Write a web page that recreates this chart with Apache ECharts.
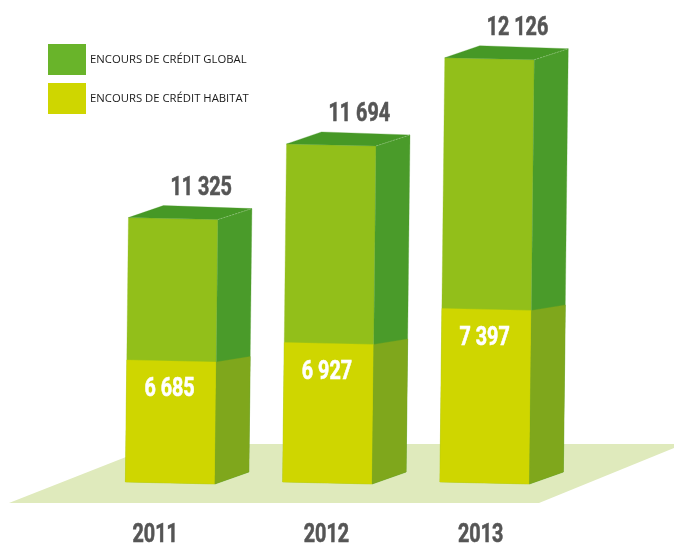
<!DOCTYPE html>
<html>
<head>
<meta charset="utf-8">
<style>html,body{margin:0;padding:0;background:#fff}#c{width:674px;height:548px}</style>
<script src="https://cdn.jsdelivr.net/npm/echarts@6/dist/echarts.min.js"></script>
</head>
<body>
<div id="c"></div>
<script>
var years = ['2011', '2012', '2013'];
var globalValues = [11325, 11694, 12126];
var habitatValues = [6685, 6927, 7397];
var globalName = 'ENCOURS DE CRÉDIT GLOBAL';
var habitatName = 'ENCOURS DE CRÉDIT HABITAT';

var FONT = 'bold 25px Roboto,sans-serif';
var SQUEEZE = 0.79;
var BAR_HALF = 44.75, DEPTH_X = 34, LEAN = 0.0115, TILT = 2;
var yearShift = [-15, -1, -4];

function fmt(v) { return String(v).replace(/(\d)(\d{3})$/, '$1 $2'); }
function face(points, fill) {
  return {type: 'polygon', shape: {points: points}, style: {fill: fill, stroke: fill, lineWidth: 0.3}};
}
function label(text, x, y, fill) {
  return {type: 'text', x: x, y: y, scaleX: SQUEEZE, scaleY: 1, style: {
    text: text, x: 0, y: 0, fill: fill, stroke: fill, lineWidth: 0.6, font: FONT, align: 'center', verticalAlign: 'middle'
  }};
}
function makeRender(opts) {
  return function (params, api) {
    var idx = api.value(0), value = api.value(1);
    var pTop = api.coord([idx, value]);
    var pBase = api.coord([idx, opts.axisMin]);
    var cx = pBase[0], by = pBase[1], ty = pTop[1];
    var l0 = cx - BAR_HALF, r0 = cx + BAR_HALF;
    var sh = LEAN * (by - ty);
    var lT = l0 + sh, rT = r0 + sh;
    var kids = [];
    kids.push(face([[l0, by], [r0, by + TILT], [rT, ty + TILT], [lT, ty]], opts.front));
    kids.push(face([[r0, by + TILT], [r0 + DEPTH_X, by + TILT - 12], [rT + DEPTH_X, ty + TILT - opts.sideRise], [rT, ty + TILT]], opts.side));
    if (opts.topFace) {
      kids.push(face([[lT, ty], [lT + 35, ty - 12], [rT + DEPTH_X, ty + TILT - opts.sideRise], [rT, ty + TILT]], opts.topFace));
      kids.push({type: 'line', shape: {x1: rT, y1: ty + TILT, x2: rT + DEPTH_X, y2: ty + TILT - opts.sideRise},
        style: {stroke: 'rgba(255,255,255,0.35)', lineWidth: 0.7, lineDash: [2, 1]}});
      kids.push(label(years[idx], cx + yearShift[idx], by + 54, '#555555'));
    }
    kids.push(label(fmt(value), (lT + rT) / 2 + opts.labelDx, ty + opts.labelDy, opts.labelColor));
    return {type: 'group', children: kids};
  };
}
function pairs(vals) { return vals.map(function (v, i) { return [i, v]; }); }

var chart = echarts.init(document.getElementById('c'), null, {renderer: 'canvas'});
chart.setOption({
  animation: false,
  backgroundColor: '#ffffff',
  grid: {left: 91.5, width: 471.75, top: 33, height: 449, containLabel: false},
  xAxis: {
    type: 'category', data: years, boundaryGap: true,
    axisLine: {show: false}, axisTick: {show: false}, splitLine: {show: false},
    axisLabel: {show: false}
  },
  yAxis: [
    {type: 'value', min: 10000, max: 12250, show: false},
    {type: 'value', min: 5000, max: 11200, show: false}
  ],
  legend: {
    orient: 'vertical', left: 48, top: 44, padding: 0, itemWidth: 38, itemHeight: 31, itemGap: 8,
    itemStyle: {borderWidth: 0},
    selectedMode: false, icon: 'rect',
    data: [globalName, habitatName],
    textStyle: {fontFamily: '"Open Sans"', fontSize: 11.3, color: '#1a1a1a', padding: [2, 0, 0, -1]}
  },
  graphic: [{
    type: 'polygon', z: 0, silent: true,
    shape: {points: [[9, 503], [539, 503], [684, 444], [159, 444]]},
    style: {fill: '#dfeabc'}
  }],
  series: [
    {
      type: 'custom', name: globalName, yAxisIndex: 0, z: 2, silent: true,
      itemStyle: {color: '#69b42a'},
      encode: {x: 0, y: 1},
      data: pairs(globalValues),
      renderItem: makeRender({axisMin: 10000, front: '#92bf1a', side: '#4a9b2a', topFace: '#469826',
        sideRise: 11, labelDx: 28, labelDy: -29, labelColor: '#555555'})
    },
    {
      type: 'custom', name: habitatName, yAxisIndex: 1, z: 3, silent: true,
      itemStyle: {color: '#cfd600'},
      encode: {x: 0, y: 1},
      data: pairs(habitatValues),
      renderItem: makeRender({axisMin: 5000, front: '#cfd600', side: '#7fa71c',
        sideRise: 5.5, labelDx: -2, labelDy: 30, labelColor: '#ffffff'})
    }
  ]
});
</script>
</body>
</html>
